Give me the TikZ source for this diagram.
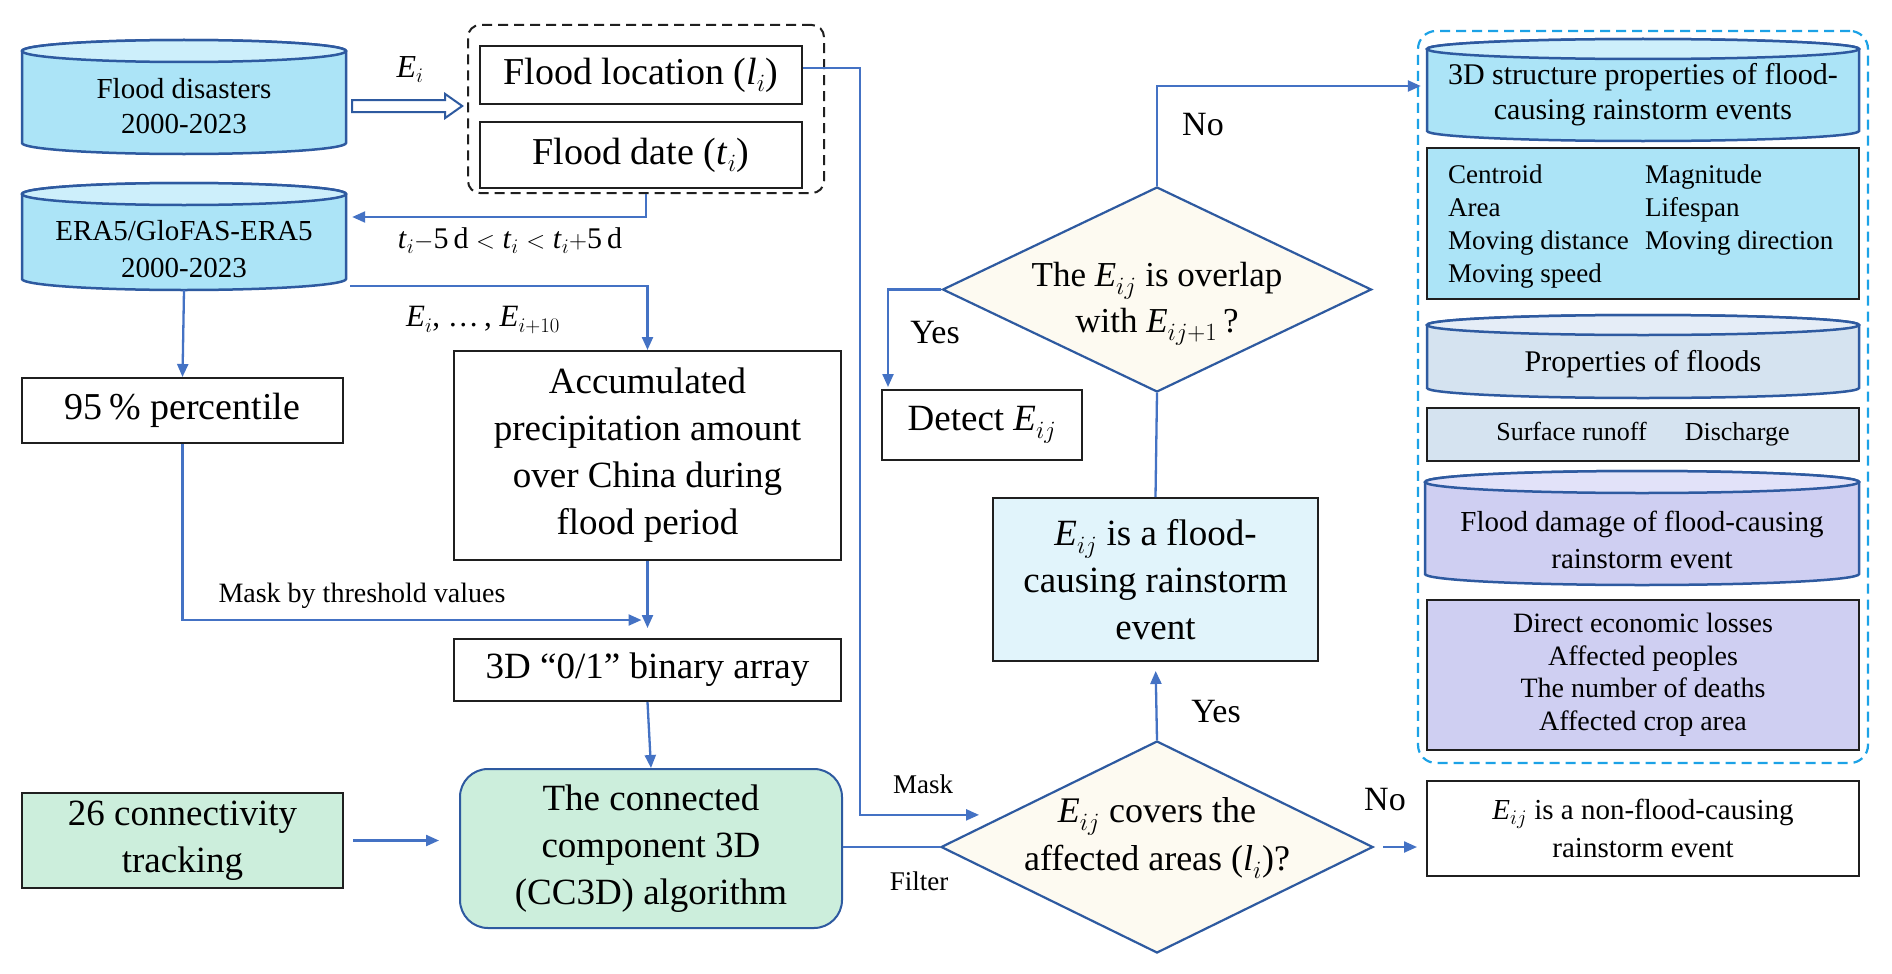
\documentclass[tikz,border=0pt]{standalone}
\usepackage{fontspec}
\setmainfont{Liberation Serif}
\usetikzlibrary{arrows.meta,shapes.geometric,calc}

\definecolor{cylblue}{HTML}{ACE4F7}
\definecolor{cyltop}{HTML}{CDEFFB}
\definecolor{edgeblue}{HTML}{2E5AA0}
\definecolor{arrblue}{HTML}{4472C4}
\definecolor{ivory}{HTML}{FDFAF1}
\definecolor{mint}{HTML}{CCEEDC}
\definecolor{paleblue}{HTML}{E1F4FB}
\definecolor{steel}{HTML}{D5E3F0}
\definecolor{steeltop}{HTML}{E5EDF7}
\definecolor{lav}{HTML}{CFCFF2}
\definecolor{lavtop}{HTML}{E2E2F9}
\definecolor{cyandash}{HTML}{1CA2E6}

\newcommand{\fs}[2]{\fontsize{#1}{#2}\selectfont}
\newcommand{\iv}[2]{\textit{#1}$_{#2}$}

% name, cx, ytop, ybot, halfwidth, ry, body colour, top colour
\newcommand{\dbcyl}[8]{%
  \pgfmathsetmacro{\cxl}{#2-#5}%
  \pgfmathsetmacro{\cxr}{#2+#5}%
  \pgfmathsetmacro{\yta}{-(#3)-(#6)}%
  \pgfmathsetmacro{\yba}{-(#4)+(#6)}%
  \path[draw=edgeblue, line width=2.5pt, fill=#7] (\cxl,\yta) -- (\cxl,\yba)
     arc[start angle=180, end angle=360, x radius=#5pt, y radius=#6pt] -- (\cxr,\yta)
     arc[start angle=0, end angle=180, x radius=#5pt, y radius=#6pt] -- cycle;
  \path[draw=edgeblue, line width=2.5pt, fill=#8] (#2,\yta) ellipse[x radius=#5pt, y radius=#6pt];
  \pgfmathsetmacro{\ymid}{-((#3)+(#4))/2}%
  \pgfmathsetmacro{\cw}{2*(#5)}%
  \pgfmathsetmacro{\ch}{(#4)-(#3)}%
  \node[inner sep=0pt, minimum width=\cw pt, minimum height=\ch pt] (#1) at (#2,\ymid) {};
}

\tikzset{
  box/.style={draw=black!88, line width=2pt, inner sep=0pt, align=center},
  txt/.style={inner sep=0pt, align=center},
  arr/.style={draw=arrblue, line width=2.3pt, -{Triangle[length=13pt,width=11pt]}},
  ln/.style={draw=arrblue, line width=2.3pt},
  dia/.style={diamond, draw=edgeblue, line width=2.2pt, fill=ivory, inner sep=0pt},
}

\begin{document}
\begin{tikzpicture}[x=1pt,y=1pt]
\fill[white] (0,0) rectangle (1892,-974);
\useasboundingbox (0,0) rectangle (1892,-974);

% ---------- right dashed panel ----------
\node[draw=cyandash, line width=2.2pt, dash pattern=on 10pt off 6pt, rounded corners=18pt,
      minimum width=450pt, minimum height=732pt, inner sep=0pt] (panel) at (1643,-397) {};

% ---------- cylinders ----------
\dbcyl{fd}{184}{40}{154}{162}{11}{cylblue}{cyltop}
\node[txt, font=\fs{29}{35}] (fdt) at (184,-106) {Flood disasters\\2000-2023};
\dbcyl{era}{184}{183}{290}{162}{11}{cylblue}{cyltop}
\node[txt, font=\fs{29}{37}] (erat) at (184,-249) {ERA5/GloFAS-ERA5\\2000-2023};

\dbcyl{c3d}{1643}{39}{141}{216}{10}{cylblue}{cyltop}
\node[txt, font=\fs{30}{35}] (c3dt) at (1643,-95) {3D structure properties of flood-\\causing rainstorm events};
\dbcyl{pf}{1643}{315}{398}{216}{10}{steel}{steeltop}
\node[txt, font=\fs{30}{35}] (pft) at (1643,-364) {Properties of floods};
\dbcyl{fdm}{1642}{471}{585}{217}{11}{lav}{lavtop}
\node[txt, font=\fs{29}{37}] (fdmt) at (1642,-540) {Flood damage of flood-causing\\rainstorm event};

% ---------- right panel boxes ----------
\node[box, fill=cylblue, minimum width=432pt, minimum height=151pt] (props) at (1643,-223.5) {};
\begin{scope}[every node/.style={inner sep=0pt, anchor=west, text height=19pt, text depth=7pt, font=\fs{27}{32}}]
\node (p1) at (1448,-177) {Centroid};
\node (p2) at (1448,-210) {Area};
\node (p3) at (1448,-243) {Moving distance};
\node (p4) at (1448,-276) {Moving speed};
\node (p5) at (1645,-177) {Magnitude};
\node (p6) at (1645,-210) {Lifespan};
\node (p7) at (1645,-243) {Moving direction};
\end{scope}
\node[box, fill=steel, minimum width=432pt, minimum height=53pt, font=\fs{26}{30}] (sr) at (1643,-434.5) {Surface runoff\hspace{38pt}Discharge};
\node[box, fill=lav, minimum width=432pt, minimum height=150pt, font=\fs{28}{32.5}] (loss) at (1643,-675) {Direct economic losses\\Affected peoples\\The number of deaths\\Affected crop area};

% ---------- top-left ----------
\node[draw=black!88, line width=2pt, dash pattern=on 10pt off 6pt, rounded corners=12pt,
      minimum width=356pt, minimum height=168pt, inner sep=0pt] (dbox) at (646,-109) {};
\node[box, minimum width=322pt, minimum height=58pt, font=\fs{38}{44}] (loc) at (641,-75) {Flood location (\iv{l}{i})};
\node[box, minimum width=322pt, minimum height=66pt, font=\fs{38}{44}] (date) at (641,-155) {Flood date (\iv{t}{i})};

% hollow arrow
\draw[draw=edgeblue, line width=2pt, fill=white]
  ($(fd.east)+(6,-3)$) -- ++(93,0) -- ++(0,6) -- ++(17,-12) -- ++(-17,-12) -- ++(0,6) -- ++(-93,0) -- cycle;
\node[txt, font=\fs{32}{34}] (ei) at (410,-70) {\iv{E}{i}};

% ---------- left column ----------
\node[box, minimum width=321pt, minimum height=65pt, font=\fs{38}{44}] (pct) at (182.5,-410.5) {95\,\% percentile};
\node[box, minimum width=387pt, minimum height=209pt, font=\fs{37}{47}] (acc) at (647.5,-455.5) {Accumulated\\precipitation amount\\over China during\\flood period};
\node[box, minimum width=387pt, minimum height=62pt, font=\fs{37}{44}] (bin) at (647.5,-670) {3D “0/1” binary array};
\node[box, draw=edgeblue, fill=mint, rounded corners=28pt, minimum width=382pt, minimum height=159pt, font=\fs{37}{47}] (cc) at (651,-848.5) {The connected\\component 3D\\(CC3D) algorithm};
\node[box, fill=mint, minimum width=321pt, minimum height=95pt, font=\fs{37}{47}] (conn) at (182.5,-840.5) {26 connectivity\\tracking};

% ---------- middle ----------
\node[dia, minimum width=429pt, minimum height=205pt] (d1) at (1157,-289.5) {};
\node[txt, font=\fs{35}{46}] (d1t) at (1157,-304) {The \iv{E}{ij} is overlap\\with \iv{E}{ij+1}\,?};
\node[box, minimum width=200pt, minimum height=70pt, font=\fs{37}{44}] (det) at (982,-425) {Detect \iv{E}{ij}};
\node[box, fill=paleblue, minimum width=325pt, minimum height=163pt, font=\fs{37}{47}] (fc) at (1155.5,-579.5) {\iv{E}{ij} is a flood-\\causing rainstorm\\event};
\node[dia, minimum width=432pt, minimum height=212pt] (d2) at (1157,-847) {};
\node[txt, font=\fs{36}{48}] (d2t) at (1157,-838) {\iv{E}{ij} covers the\\affected areas (\iv{l}{i})?};
\node[box, minimum width=432pt, minimum height=95pt, font=\fs{29}{38}] (nf) at (1643,-828.5) {\iv{E}{ij} is a non-flood-causing\\rainstorm event};

% ---------- connectors ----------
\draw[arr] (dbox.south) |- ($(era.east)+(6,19.5)$);
\node[txt, font=\fs{30}{34}] (trange) at (510,-241) {\iv{t}{i}$-$5\,d $<$ \iv{t}{i} $<$ \iv{t}{i}$+$5\,d};
\draw[arr] ($(era.east)+(4,-49.5)$) -| (acc.north);
\node[txt, font=\fs{31}{34}] (elist) at (483,-320) {\iv{E}{i}, \dots\,, \iv{E}{i+10}};
\draw[arr] (era.south) -- (pct.north);
\draw[arr] (pct.south) |- ($(bin.north)+(-6,18)$);
\node[txt, font=\fs{28}{32}] (mtv) at (362,-596) {Mask by threshold values};
\draw[arr] (acc.south) -- ($(bin.north)+(0,10)$);
\draw[arr] (bin.south) -- (cc.north);
\draw[arr, shorten <=9pt, shorten >=20pt] (conn.east) -- (conn.east -| cc.west);

\draw[arr, shorten >=26pt] ($(loc.east)+(0,7)$) -- ++(57,0) |- ($(d2.west)!0.3!(d2.north)$);
\node[txt, font=\fs{27}{32}] (mask) at (923,-784) {Mask};
\draw[ln] (cc.east |- d2.west) -- (d2.west);
\node[txt, font=\fs{27}{32}] (filter) at (919,-881) {Filter};

\draw[arr, shorten <=9pt, shorten >=9pt] (d2.east) -- (d2.east -| nf.west);
\node[txt, font=\fs{34}{40}] (no2) at (1385,-800) {No};
\draw[arr, shorten >=9pt] (d2.north) -- (fc.south);
\node[txt, font=\fs{34}{40}] (yes2) at (1216,-712) {Yes};
\draw[ln] (fc.north) -- (d1.south);
\draw[arr] (d1.north) |- ($(c3d.west)+(-6,4)$);
\node[txt, font=\fs{34}{40}] (no1) at (1203,-125) {No};
\draw[arr] (d1.west) -| ($(det.north west)+(7,2)$);
\node[txt, font=\fs{34}{40}] (yes1) at (935,-333) {Yes};
\end{tikzpicture}
\end{document}
